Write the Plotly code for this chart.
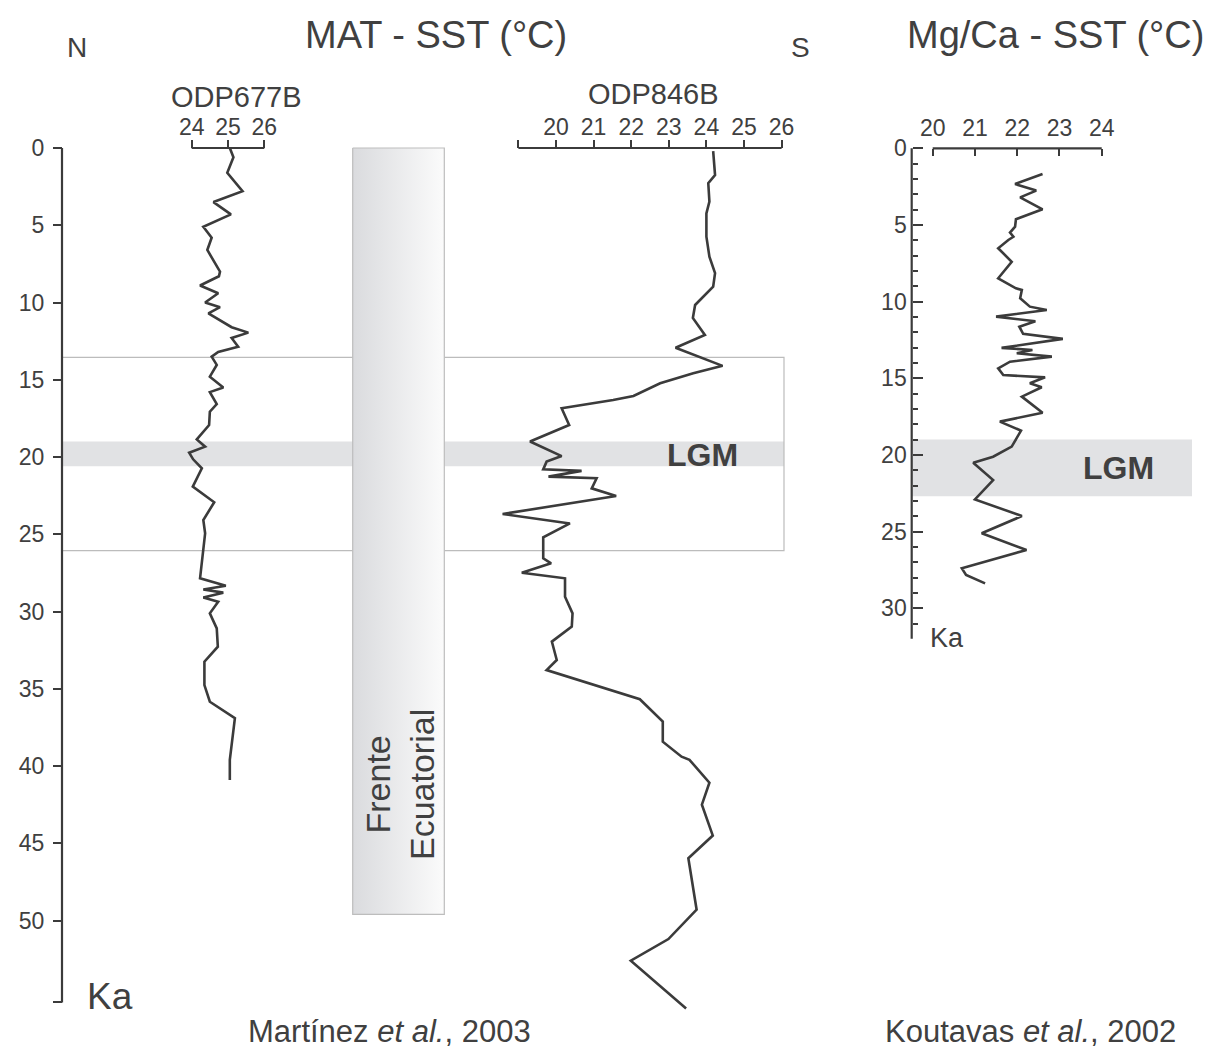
import plotly.graph_objects as go

W, H = 1208, 1048
FONT = "Liberation Sans, Arial, sans-serif"
INK = "#3b3b3b"
TXT = "#404040"

# ---------------- data ----------------
odp677_ka = [0.0, 0.6, 1.6, 2.8, 3.5, 4.3, 5.1, 5.8, 6.6, 8.0, 8.3, 8.9, 9.4, 10.0, 10.3,
             10.7, 11.6, 11.95, 12.3, 12.86, 13.2, 13.5, 14.04, 14.8, 15.5, 15.8, 16.57,
             17.07, 17.93, 18.86, 19.33, 19.72, 20.15, 20.73, 21.92, 22.93, 24.08, 24.94,
             27.85, 28.33, 28.57, 28.78, 29.1, 29.37, 30.12, 31.09, 32.28, 33.25, 34.76,
             35.84, 36.9, 39.6, 40.9]
odp677_sst = [25.05, 25.15, 24.98, 25.40, 24.60, 25.08, 24.32, 24.55, 24.43, 24.78, 24.75,
              24.23, 24.73, 24.37, 24.78, 24.46, 25.10, 25.56, 25.10, 25.28, 24.73, 24.55,
              24.69, 24.50, 24.87, 24.50, 24.69, 24.50, 24.48, 24.14, 24.37, 23.93, 24.04,
              24.28, 24.03, 24.62, 24.32, 24.37, 24.23, 24.94, 24.32, 24.87, 24.32, 24.73,
              24.50, 24.69, 24.72, 24.35, 24.35, 24.50, 25.19, 25.05, 25.05]

odp846_ka = [0.2, 1.75, 2.28, 3.47, 4.23, 5.74, 7.03, 8.10, 8.98, 10.16, 11.00, 12.10, 12.93,
             14.10, 14.58, 15.23, 16.05, 16.31, 16.85, 17.93, 19.00, 19.94, 20.30, 20.80,
             20.90, 21.27, 21.38, 22.03, 22.52, 23.69, 24.30, 25.20, 26.56, 26.88, 27.49,
             27.85, 29.04, 30.12, 30.98, 31.95, 33.14, 33.79, 35.68, 37.13, 38.43, 39.40,
             39.60, 41.08, 42.50, 44.50, 45.97, 49.30, 51.20, 52.60, 55.70]
odp846_sst = [24.18, 24.23, 24.05, 24.08, 24.00, 24.00, 24.08, 24.23, 24.18, 23.70, 23.64,
              23.96, 23.18, 24.43, 23.65, 22.77, 22.06, 21.52, 20.15, 20.35, 19.31, 20.15,
              19.75, 19.66, 20.68, 19.80, 21.08, 20.95, 21.60, 18.58, 20.37, 19.66, 19.66,
              19.87, 19.09, 20.24, 20.24, 20.44, 20.42, 19.89, 20.02, 19.75, 22.23, 22.84,
              22.84, 23.34, 23.55, 24.08, 23.88, 24.17, 23.52, 23.74, 22.99, 21.99, 23.46]

kout_ka = [1.68, 2.33, 2.76, 3.20, 3.98, 4.63, 5.11, 5.50, 5.77, 5.98, 6.52, 7.40, 8.48, 9.13,
           9.24, 9.78, 10.33, 10.55, 10.98, 11.28, 11.64, 12.10, 12.43, 13.02, 13.16, 13.37,
           13.59, 13.92, 14.35, 14.79, 14.94, 15.33, 15.59, 16.20, 17.25, 17.83, 18.42,
           19.46, 20.12, 20.51, 21.64, 22.90, 23.99, 25.11, 26.20, 27.40, 27.83, 28.38]
kout_sst = [22.60, 21.95, 22.45, 22.07, 22.60, 21.97, 21.95, 21.83, 21.91, 21.79, 21.55,
            21.87, 21.55, 21.97, 22.11, 22.07, 22.30, 22.70, 21.50, 22.43, 22.05, 22.14,
            23.08, 21.63, 22.36, 21.99, 22.82, 21.83, 21.55, 21.67, 22.66, 22.30, 22.58,
            22.11, 22.60, 21.59, 22.09, 21.87, 21.43, 20.96, 21.43, 21.00, 22.11, 21.16,
            22.22, 20.69, 20.79, 21.24]

# axis ticks
ka_ticks_left = [0, 5, 10, 15, 20, 25, 30, 35, 40, 45, 50]
ka_end_left = 55.3
odp677_ticks = [24, 25, 26]
odp846_ticks = [19, 20, 21, 22, 23, 24, 25, 26]
odp846_labels = ["", "20", "21", "22", "23", "24", "25", "26"]
kout_ticks = [20, 21, 22, 23, 24]
ka_ticks_right = [0, 5, 10, 15, 20, 25, 30]
ka_minor_right = [1, 2, 3, 4, 6, 7, 8, 9, 11, 12, 13, 14, 16, 17, 18, 19, 21, 22, 23, 24,
                  26, 27, 28, 29, 31]
ka_end_right = 32

# intervals
lgm_left = [19.0, 20.6]
lgm_right = [19.0, 22.7]
frame_left = [13.55, 26.06]
frente_ka = [0.0, 49.6]


def px(x):
    return x / W


def py(y):
    return 1 - y / H


# pixel calibrations of the axes
YL0, YLS = 148.0, 15.45     # ka 0 pixel, px per ka (left)
YR0, YRS = 148.3, 15.33     # right panel
X1_REF, X1_PX, X1S = 24, 191.7, 36.3
X2_REF, X2_PX, X2S = 20, 556.0, 37.6
X3_REF, X3_PX, X3S = 20, 932.7, 42.25


def xr(ref, refpx, s):
    return [ref - refpx / s, ref + (W - refpx) / s]


fig = go.Figure()

# Frente Ecuatorial box (gradient)
fx0, fx1 = px(352.7), px(444.3)
fig.add_trace(go.Scatter(
    x=[fx0, fx1, fx1, fx0, fx0],
    y=[frente_ka[0], frente_ka[0], frente_ka[1], frente_ka[1], frente_ka[0]],
    mode="lines", fill="toself",
    fillgradient=dict(type="horizontal",
                      colorscale=[[0, "#dadbde"], [1, "#fbfbfb"]]),
    line=dict(color="#bdbdbd", width=1.2),
    xaxis="x4", yaxis="y", hoverinfo="skip", showlegend=False))

line = dict(color=INK, width=2.6)
fig.add_trace(go.Scatter(x=odp677_sst, y=odp677_ka, mode="lines", line=line,
                         xaxis="x", yaxis="y", showlegend=False))
fig.add_trace(go.Scatter(x=odp846_sst, y=odp846_ka, mode="lines", line=line,
                         xaxis="x2", yaxis="y", showlegend=False))
fig.add_trace(go.Scatter(x=kout_sst, y=kout_ka, mode="lines", line=line,
                         xaxis="x3", yaxis="y2", showlegend=False))

shapes = [
    dict(type="rect", xref="paper", yref="y", x0=px(62), x1=px(784),
         y0=lgm_left[0], y1=lgm_left[1], fillcolor="#e1e2e4", line=dict(width=0),
         layer="below"),
    dict(type="rect", xref="paper", yref="y", x0=px(62), x1=px(784),
         y0=frame_left[0], y1=frame_left[1], fillcolor="rgba(0,0,0,0)",
         line=dict(color="#bcbcbc", width=1.2), layer="below"),
    dict(type="rect", xref="paper", yref="y2", x0=px(912), x1=px(1192),
         y0=lgm_right[0], y1=lgm_right[1], fillcolor="#e1e2e4", line=dict(width=0),
         layer="below"),
    # axis lines
    dict(type="line", xref="paper", yref="y", x0=px(62), x1=px(62), y0=0, y1=ka_end_left,
         line=dict(color=INK, width=2.2)),
    dict(type="line", xref="x", yref="y", x0=odp677_ticks[0], x1=odp677_ticks[-1], y0=0, y1=0,
         line=dict(color=INK, width=2.2)),
    dict(type="line", xref="x2", yref="y", x0=odp846_ticks[0], x1=odp846_ticks[-1], y0=0, y1=0,
         line=dict(color=INK, width=2.2)),
    dict(type="line", xref="x3", yref="y2", x0=kout_ticks[0], x1=kout_ticks[-1], y0=0, y1=0,
         line=dict(color=INK, width=2.2)),
    dict(type="line", xref="paper", yref="y2", x0=px(911.7), x1=px(911.7), y0=0,
         y1=ka_end_right, line=dict(color=INK, width=2.2)),
]

tf = dict(family=FONT, size=23, color=TXT)
common = dict(showgrid=False, zeroline=False, showline=False, tickcolor=INK,
              tickwidth=2, tickfont=tf, fixedrange=True)

fig.update_layout(
    width=W, height=H, margin=dict(l=0, r=0, t=0, b=0), autosize=False,
    paper_bgcolor="white", plot_bgcolor="rgba(0,0,0,0)", showlegend=False,
    font=dict(family=FONT, color=TXT),
    xaxis=dict(domain=[0, 1], range=xr(X1_REF, X1_PX, X1S), anchor="free",
               position=py(148), side="top", ticks="outside", ticklen=8,
               tickmode="array", tickvals=odp677_ticks, ticklabelstandoff=-4, **common),
    xaxis2=dict(domain=[0, 1], range=xr(X2_REF, X2_PX, X2S), anchor="free",
                position=py(148), side="top", overlaying="x", ticks="outside", ticklen=8,
                tickmode="array", tickvals=odp846_ticks, ticktext=odp846_labels,
                ticklabelstandoff=-4, **common),
    xaxis3=dict(domain=[0, 1], range=xr(X3_REF, X3_PX, X3S), anchor="free",
                position=py(148.3), side="top", overlaying="x", ticks="inside", ticklen=7,
                tickmode="array", tickvals=kout_ticks, ticklabelstandoff=8, **common),
    xaxis4=dict(domain=[0, 1], range=[0, 1], overlaying="x", visible=False, fixedrange=True),
    yaxis=dict(domain=[0, 1], range=[(H - YL0) / YLS, -YL0 / YLS], anchor="free",
               position=px(62), side="left", ticks="outside", ticklen=9,
               tickmode="array", tickvals=ka_ticks_left + [ka_end_left],
               ticktext=[str(v) for v in ka_ticks_left] + [""],
               ticklabelstandoff=4, **common),
    yaxis2=dict(domain=[0, 1], range=[(H - YR0) / YRS, -YR0 / YRS], anchor="free",
                position=px(911.7), side="left", overlaying="y", ticks="inside", ticklen=10,
                tickmode="array", tickvals=ka_ticks_right, ticklabelstandoff=5,
                minor=dict(tickmode="array", tickvals=ka_minor_right, ticks="inside",
                           ticklen=5, tickwidth=2, tickcolor=INK),
                **common),
    shapes=shapes,
)


def ann(text, x, y, size, **kw):
    d = dict(text=text, x=px(x), y=py(y), xref="paper", yref="paper", showarrow=False,
             font=dict(family=FONT, size=size, color=kw.pop("color", TXT)),
             xanchor="center", yanchor="middle")
    d.update(kw)
    fig.add_annotation(**d)


ann("N", 77, 47, 28)
ann("MAT - SST (°C)", 436, 35, 38)
ann("S", 800, 47, 28)
ann("Mg/Ca - SST (°C)", 1055, 35, 38)
ann("ODP677B", 236, 97, 29)
ann("ODP846B", 653, 94, 29)
ann("<b>LGM</b>", 702, 455, 32)
ann("<b>LGM</b>", 1118, 468, 32)
ann("Frente<br>Ecuatorial", 400, 785, 34, textangle=-90)
ann("Ka", 110, 996, 37)
ann("Ka", 947, 638, 27)
ann("Martínez <i>et al.</i>, 2003", 389, 1031, 31)
ann("Koutavas <i>et al.</i>, 2002", 1030, 1031, 31)

fig.write_html(
    "out.html",
    config={"displayModeBar": False},
    post_script="document.body.style.margin='0';"
                "document.documentElement.style.overflow='hidden';",
)
